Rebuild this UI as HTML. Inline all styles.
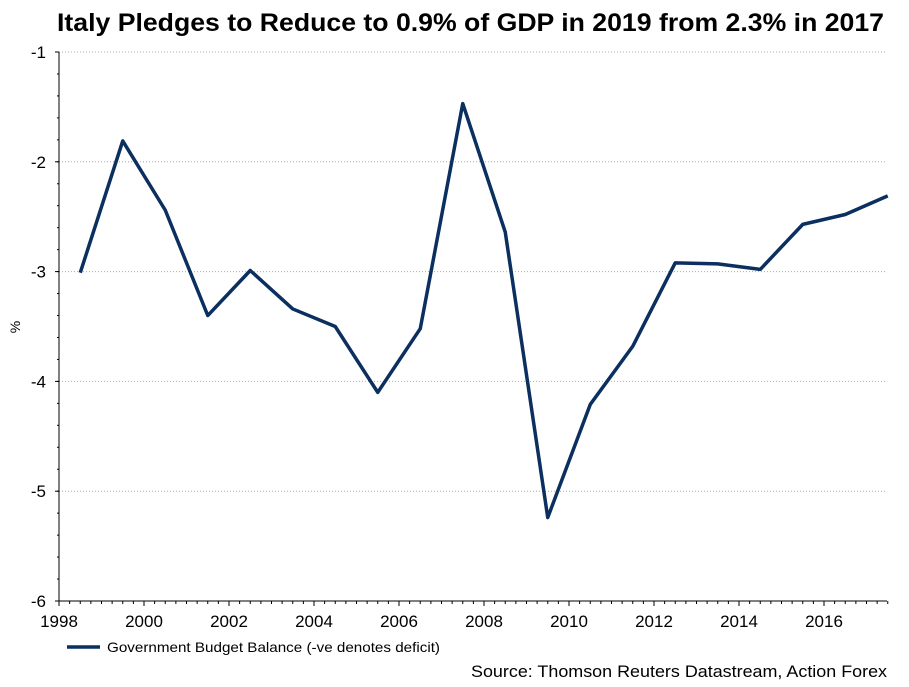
<!DOCTYPE html>
<html><head><meta charset="utf-8"><style>
body{margin:0;background:#fff;width:909px;height:682px;overflow:hidden;font-family:"Liberation Sans",sans-serif}
</style></head><body>
<svg width="909" height="682" xmlns="http://www.w3.org/2000/svg">
<text x="57" y="31" font-size="25" font-weight="bold" textLength="827" lengthAdjust="spacingAndGlyphs">Italy Pledges to Reduce to 0.9% of GDP in 2019 from 2.3% in 2017</text>
<g id="grid"></g><g id="axes"></g>
<text transform="translate(20,327) rotate(-90)" text-anchor="middle" font-size="14">%</text>
<path id="line" fill="none" stroke="#0b2f5e" stroke-width="3.5" stroke-linejoin="round"/>
<line x1="67" y1="647" x2="100" y2="647" stroke="#0b2f5e" stroke-width="3.5"/>
<text x="107" y="652" font-size="14" textLength="333" lengthAdjust="spacingAndGlyphs">Government Budget Balance (-ve denotes deficit)</text>
<text x="471" y="677" font-size="17" textLength="416" lengthAdjust="spacingAndGlyphs">Source: Thomson Reuters Datastream, Action Forex</text>
</svg>
<script>
const years=[1998.5,1999.5,2000.5,2001.5,2002.5,2003.5,2004.5,2005.5,2006.5,2007.5,2008.5,2009.5,2010.5,2011.5,2012.5,2013.5,2014.5,2015.5,2016.5,2017.5];
const values=[-3.01,-1.81,-2.44,-3.40,-2.99,-3.34,-3.50,-4.10,-3.52,-1.47,-2.64,-5.24,-4.21,-3.68,-2.92,-2.93,-2.98,-2.57,-2.48,-2.31];
const yTicks=[-1,-2,-3,-4,-5,-6];
const xTicks=[1998,2000,2002,2004,2006,2008,2010,2012,2014,2016];
const NS="http://www.w3.org/2000/svg";
const X=v=>59+(v-1998)*42.5, Y=v=>52+(-1-v)*109.8;
const grid=document.getElementById('grid'), axes=document.getElementById('axes');
function mk(tag,attrs,parent){const e=document.createElementNS(NS,tag);for(const k in attrs)e.setAttribute(k,attrs[k]);parent.appendChild(e);return e;}
yTicks.forEach(t=>{
  if(t>-6){const g=mk('line',{x1:59,x2:887,y1:Y(t),y2:Y(t),stroke:'#aaa','stroke-dasharray':'1,2'},grid);
  
  }
  const l=mk('text',{x:46,y:Y(t)+6,'text-anchor':'end','font-size':17},axes);l.textContent=t;
  
  
  mk('line',{x1:55,x2:59,y1:Y(t),y2:Y(t),stroke:'#000'},axes);
});
for(let v=-6;v<=-1.001;v+=0.2){mk('line',{x1:57,x2:59,y1:Y(v),y2:Y(v),stroke:'#000'},axes);}
for(let q=1998;q<=2017.5;q+=0.25){const maj=Math.abs(q-Math.round(q))<1e-6&&Math.round(q)%2==0;mk('line',{x1:X(q),x2:X(q),y1:601,y2:601+(maj?5:3),stroke:'#000'},axes);}
xTicks.forEach(t=>{const l=mk('text',{x:X(t),y:627,'text-anchor':'middle','font-size':17},axes);l.textContent=t;
  
  });
const ya=mk('line',{x1:59,x2:59,y1:52,y2:601,stroke:'#000'},axes);


const xa=mk('line',{x1:59,x2:887,y1:601,y2:601,stroke:'#000'},axes);


document.getElementById('line').setAttribute('d',years.map((y,i)=>(i?'L':'M')+X(y)+','+Y(values[i])).join(''));
</script>
</body></html>
